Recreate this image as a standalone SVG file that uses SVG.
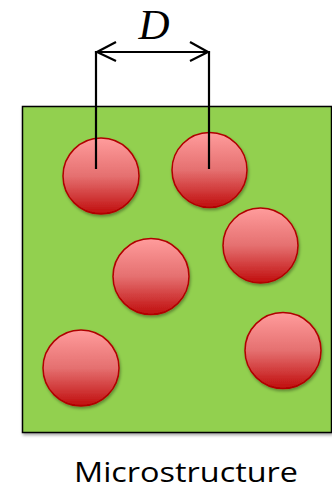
<svg xmlns="http://www.w3.org/2000/svg" width="332" height="489" viewBox="0 0 332 489">
<defs>
<linearGradient id="red" x1="0" y1="0" x2="0" y2="1">
<stop offset="0" stop-color="#ff9c9c"/>
<stop offset="0.5" stop-color="#e57070"/>
<stop offset="1" stop-color="#c00d0d"/>
</linearGradient>
<filter id="sh" x="-20%" y="-20%" width="140%" height="140%">
<feDropShadow dx="1" dy="2" stdDeviation="1.5" flood-color="#000" flood-opacity="0.35"/>
</filter>
</defs>
<style>
.p{fill:url(#red);stroke:#b00000;stroke-width:1.5;filter:url(#sh)}
.ln{stroke:#000;stroke-width:2.2;fill:none}
</style>
<g id="matrix">
<rect x="22.5" y="106.5" width="309" height="326" fill="#92d050" stroke="#000" stroke-width="1.5" filter="url(#sh)"/>
</g>
<g id="particles">
<circle class="p" cx="101" cy="176" r="38"/>
<circle class="p" cx="209.5" cy="170" r="37.5"/>
<circle class="p" cx="260.5" cy="245.5" r="37.5"/>
<circle class="p" cx="151" cy="276.5" r="38"/>
<circle class="p" cx="81" cy="368" r="38"/>
<circle class="p" cx="283" cy="350.5" r="38"/>
</g>
<g id="connectors">
<path class="ln" d="M96 169V52H209V169"/>
<path class="ln" d="M116 42L97 52L116 61"/>
<path class="ln" d="M190 42L208 52L190 61"/>
</g>
<g id="labels">
<text x="154" y="39" font-family="'Liberation Serif', serif" font-style="italic" font-size="43" text-anchor="middle">D</text>
<text x="186" y="482" font-family="'Open Sans', 'Liberation Sans', sans-serif" font-size="27" text-anchor="middle" textLength="224" lengthAdjust="spacingAndGlyphs">Microstructure</text>
</g>
</svg>
